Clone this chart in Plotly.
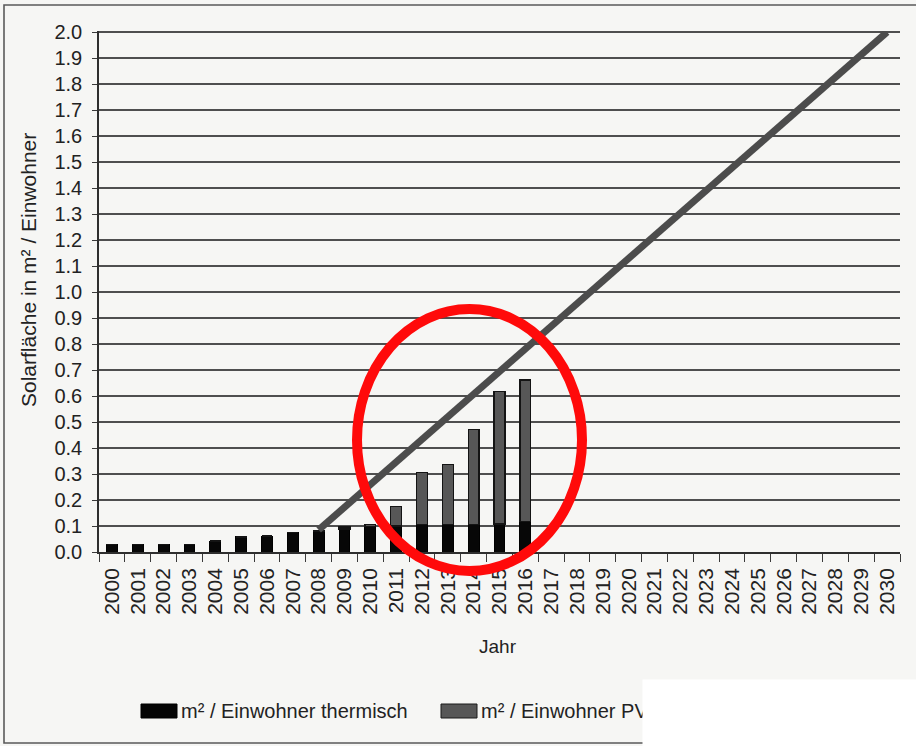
import plotly.graph_objects as go

# Kategorien (Jahre) der x-Achse
jahre = ["2000", "2001", "2002", "2003", "2004", "2005", "2006", "2007",
         "2008", "2009", "2010", "2011", "2012", "2013", "2014", "2015",
         "2016", "2017", "2018", "2019", "2020", "2021", "2022", "2023",
         "2024", "2025", "2026", "2027", "2028", "2029", "2030"]

# Jahre mit Balken
balken_jahre = ["2000", "2001", "2002", "2003", "2004", "2005", "2006", "2007",
                "2008", "2009", "2010", "2011", "2012", "2013", "2014", "2015",
                "2016"]

# Solarfläche thermisch in m² je Einwohner
thermisch = [0.030, 0.030, 0.030, 0.030, 0.042, 0.058, 0.061, 0.075,
             0.080, 0.088, 0.097, 0.100, 0.105, 0.107, 0.107, 0.108, 0.117]

# Solarfläche Photovoltaik in m² je Einwohner
pv = [0.0, 0.0, 0.0, 0.0, 0.0, 0.0, 0.0, 0.0,
      0.004, 0.008, 0.010, 0.075, 0.200, 0.230, 0.365, 0.510, 0.545]

# Zielpfad 2008 -> 2030
ziel_jahre = ["2008", "2030"]
ziel_werte = [0.085, 2.0]

# y-Achsen-Ticks
y_ticks = [0.0, 0.1, 0.2, 0.3, 0.4, 0.5, 0.6, 0.7, 0.8, 0.9, 1.0,
           1.1, 1.2, 1.3, 1.4, 1.5, 1.6, 1.7, 1.8, 1.9, 2.0]

W, H = 916, 746
L, R, T, B = 99, 16, 31, 194
PW, PH = W - L - R, H - T - B


def px(x):
    """Pixel-x in Papierkoordinaten umrechnen."""
    return (x - L) / PW


def py(y):
    """Pixel-y (von oben) in Papierkoordinaten umrechnen."""
    return (H - B - y) / PH


FONT = "Liberation Sans, Arial, Helvetica, sans-serif"
TEXT = "#222222"
BG = "#f6f6f4"

fig = go.Figure()

fig.add_trace(go.Bar(
    x=balken_jahre, y=thermisch, name="m² / Einwohner thermisch",
    marker=dict(color="#070707", line=dict(color="#000000", width=1)),
    showlegend=False,
))
fig.add_trace(go.Bar(
    x=balken_jahre, y=pv, name="m² / Einwohner PV",
    marker=dict(color="#575757", line=dict(color="#141414", width=1.3)),
    showlegend=False,
))
fig.add_trace(go.Scatter(
    x=ziel_jahre, y=ziel_werte, mode="lines",
    line=dict(color="#4c4c4c", width=7),
    showlegend=False, hoverinfo="skip",
))

shapes = [
    # Rahmen um die Abbildung
    dict(type="path", xref="paper", yref="paper",
         path=f"M {px(940)},{py(5)} L {px(4)},{py(5)} L {px(4)},{py(743)} L {px(940)},{py(743)}",
         line=dict(color="#5a5a5a", width=1.6), layer="above"),
    # Rote Markierung
    dict(type="circle", xref="paper", yref="paper",
         x0=px(357), x1=px(582), y0=py(571), y1=py(309),
         line=dict(color="#ff0a0a", width=10), layer="above"),
    # Legendensymbole
    dict(type="rect", xref="paper", yref="paper",
         x0=px(141), x1=px(177), y0=py(718), y1=py(704),
         fillcolor="#050505", line=dict(color="#000000", width=1), layer="above"),
    dict(type="rect", xref="paper", yref="paper",
         x0=px(441), x1=px(477), y0=py(718), y1=py(704),
         fillcolor="#575757", line=dict(color="#1a1a1a", width=1), layer="above"),
]

annotations = [
    dict(text="Solarfläche in m² / Einwohner", textangle=-90,
         xref="paper", yref="paper", x=px(28), y=py(270),
         xanchor="center", yanchor="middle", showarrow=False,
         font=dict(family=FONT, size=21, color=TEXT)),
    dict(text="Jahr", xref="paper", yref="paper", x=px(498), y=py(646),
         xanchor="center", yanchor="middle", showarrow=False,
         font=dict(family=FONT, size=19, color=TEXT)),
    dict(text="m² / Einwohner thermisch", xref="paper", yref="paper",
         x=px(179), y=py(711), xanchor="left", yanchor="middle",
         showarrow=False, font=dict(family=FONT, size=20, color=TEXT)),
    dict(text="m² / Einwohner PV", xref="paper", yref="paper",
         x=px(479), y=py(711), xanchor="left", yanchor="middle",
         showarrow=False, font=dict(family=FONT, size=20, color=TEXT)),
    # weiße Abdeckfläche unten rechts
    dict(text=" ", xref="paper", yref="paper", x=px(642), y=py(679),
         xanchor="left", yanchor="top", showarrow=False,
         width=300, height=90, bgcolor="#ffffff", borderpad=0,
         font=dict(size=10, color="#ffffff")),
]

fig.update_layout(
    width=W, height=H,
    margin=dict(l=L, r=R, t=T, b=B, pad=0),
    paper_bgcolor=BG, plot_bgcolor=BG,
    barmode="stack", bargap=0.58,
    shapes=shapes, annotations=annotations,
    font=dict(family=FONT, color=TEXT),
)

fig.update_xaxes(
    type="category", categoryorder="array", categoryarray=jahre,
    tickmode="array", tickvals=jahre, ticktext=jahre,
    range=[-0.5, len(jahre) - 0.5], tickson="boundaries",
    ticks="outside", ticklen=8, tickwidth=1, tickcolor="#3a3a3a",
    showline=True, linecolor="#2e2e2e", linewidth=1.5,
    tickangle=-90, ticklabelstandoff=6,
    tickfont=dict(family=FONT, size=21, color=TEXT),
    showgrid=False, zeroline=False,
)
fig.update_yaxes(
    range=[0, 2.004], tickmode="array", tickvals=y_ticks,
    ticktext=[f"{v:.1f}" for v in y_ticks],
    ticks="outside", ticklen=5, tickwidth=1.2, tickcolor="#3a3a3a",
    showline=True, linecolor="#2e2e2e", linewidth=1.5,
    showgrid=True, gridcolor="#4f4f4f", gridwidth=1.5,
    zeroline=False, ticklabelstandoff=6,
    tickfont=dict(family=FONT, size=20, color=TEXT),
)

fig.write_html("out.html")
